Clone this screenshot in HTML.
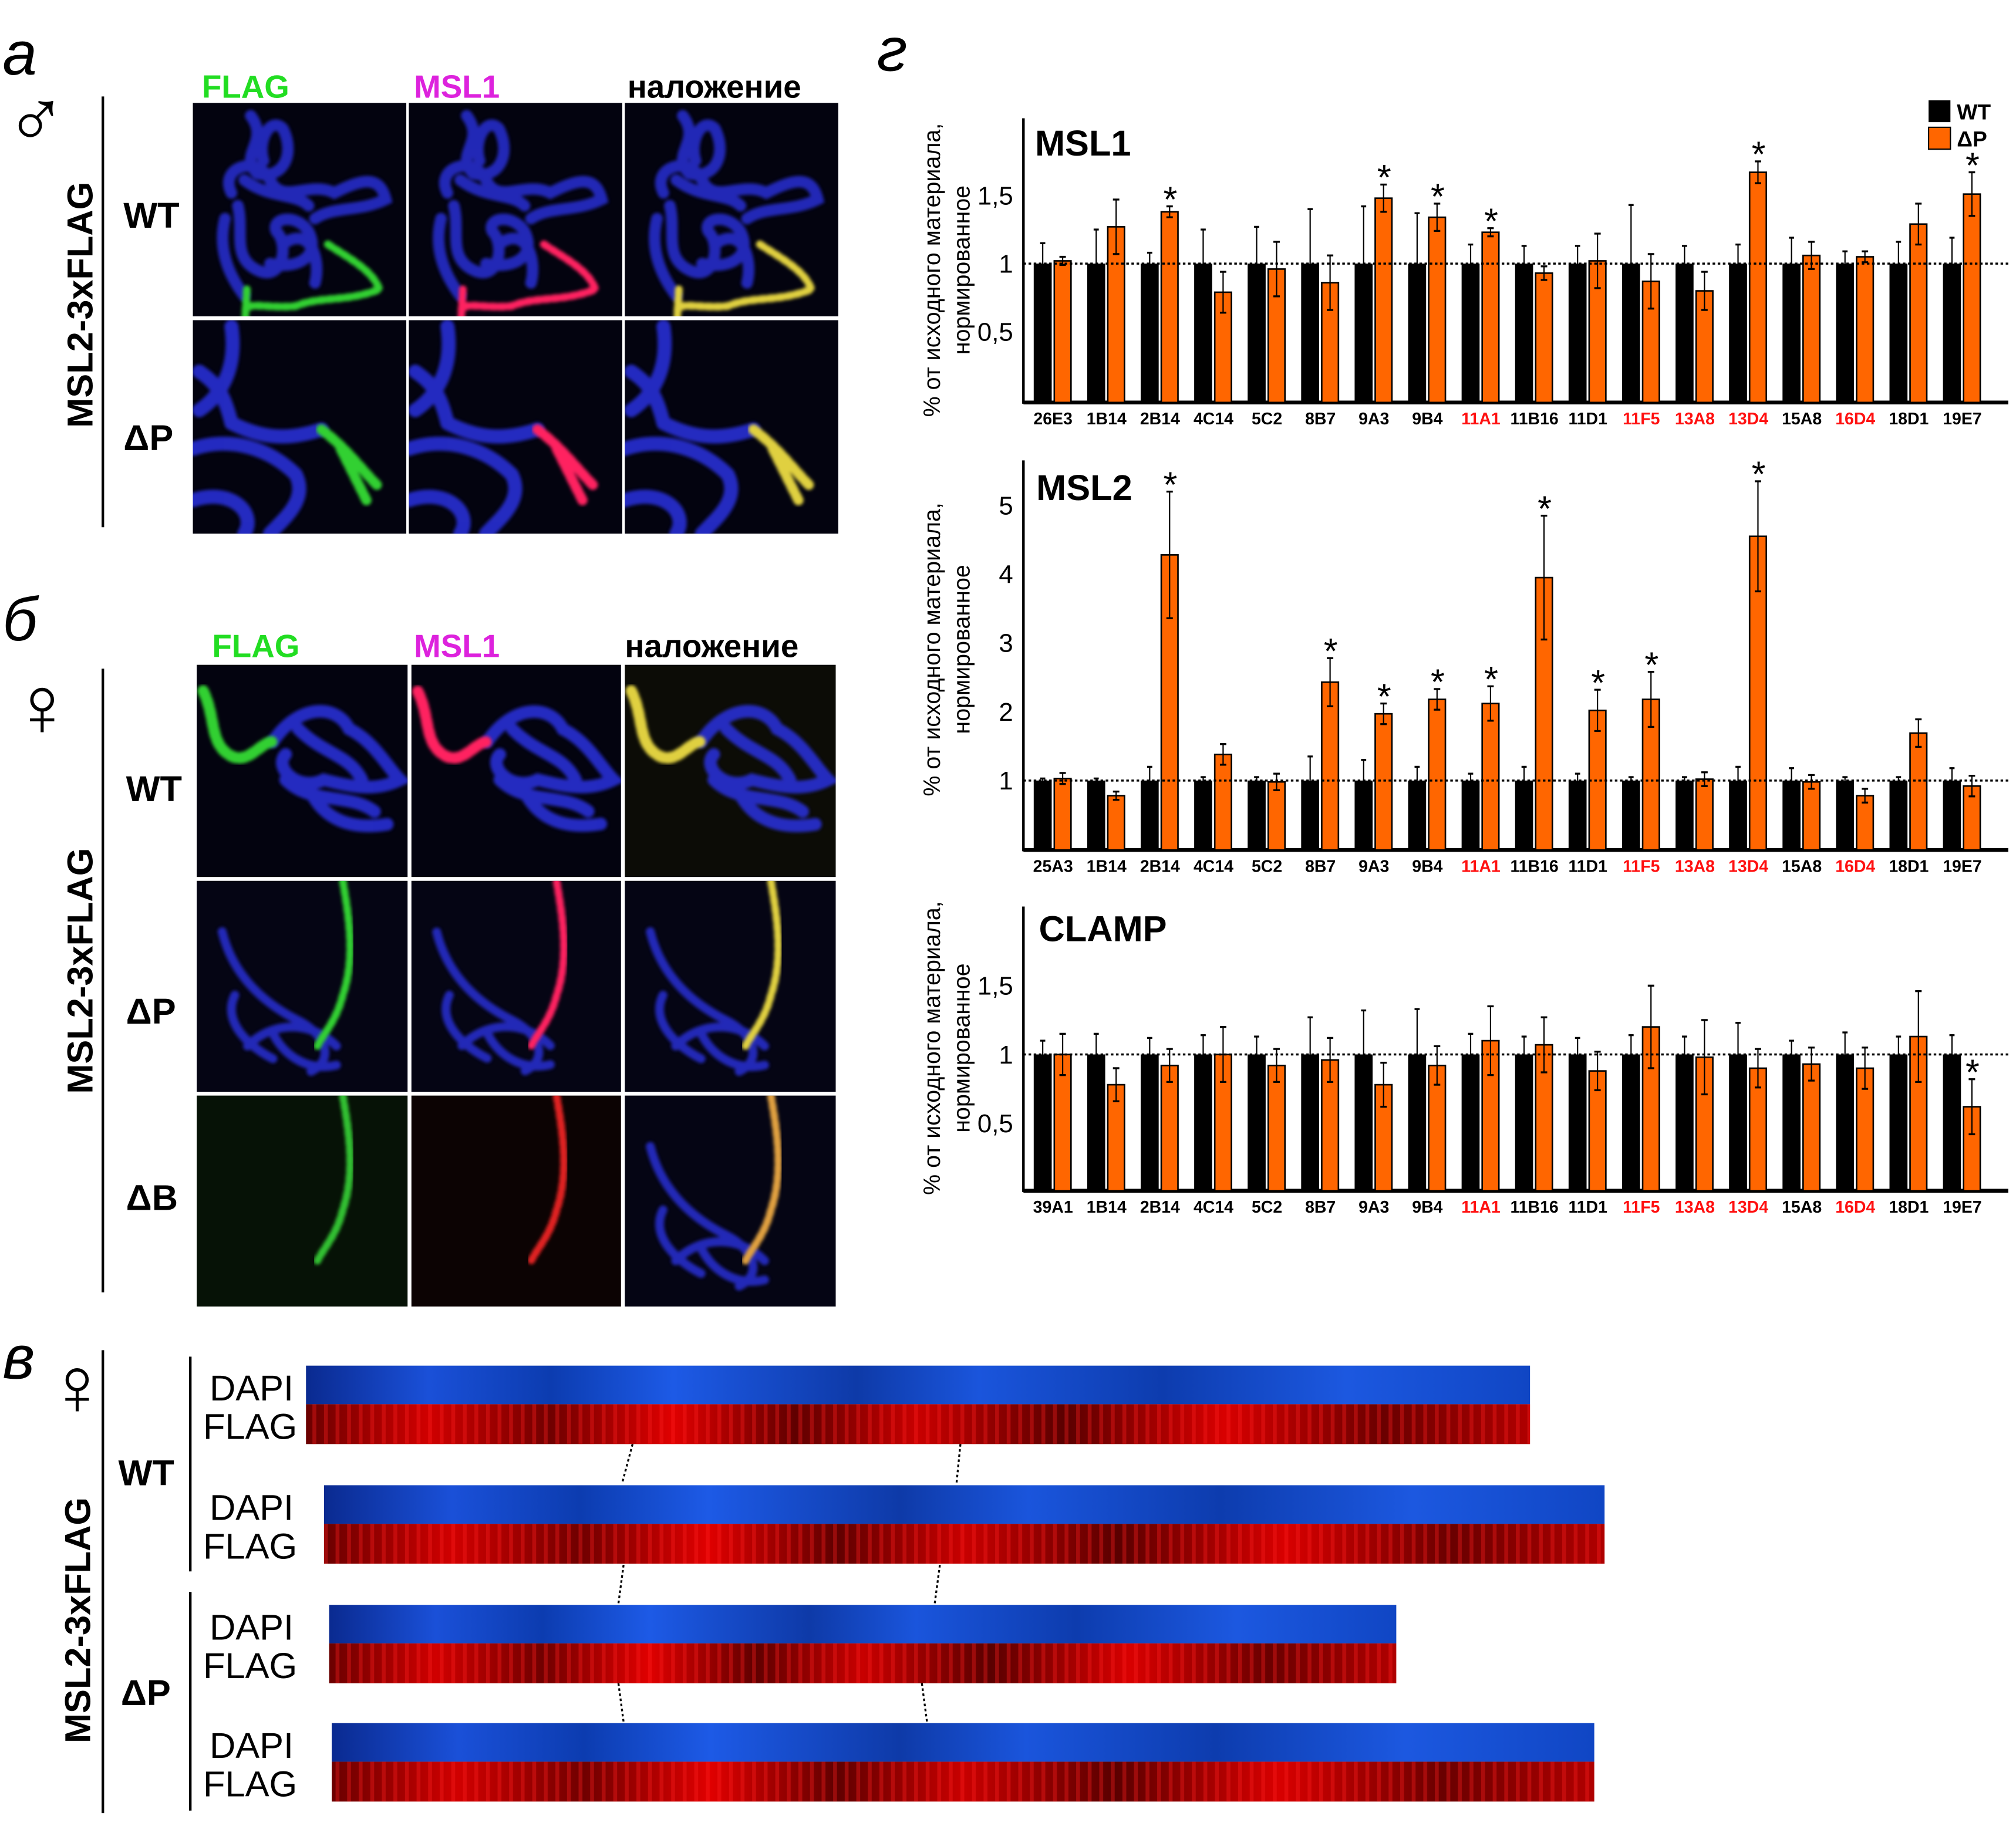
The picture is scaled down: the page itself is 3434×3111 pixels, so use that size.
<!DOCTYPE html>
<html><head><meta charset="utf-8"><style>
html,body{margin:0;padding:0;background:#fff}
svg{display:block}
text{font-family:"Liberation Sans","DejaVu Sans",sans-serif}
</style></head><body>
<svg id="s" xmlns="http://www.w3.org/2000/svg" width="3434" height="3111" viewBox="0 0 1568 1420" preserveAspectRatio="none">
<defs>
<filter id="bl" x="-10%" y="-10%" width="120%" height="120%"><feGaussianBlur stdDeviation="1.3"/></filter>
<linearGradient id="dapi" x1="0" x2="1" y1="0" y2="0">
<stop offset="0" stop-color="#0a2a90"/><stop offset="0.1" stop-color="#1a50d8"/><stop offset="0.2" stop-color="#0c3cb0"/><stop offset="0.3" stop-color="#1d5ae6"/><stop offset="0.45" stop-color="#0e3aa8"/><stop offset="0.55" stop-color="#1a55dc"/><stop offset="0.7" stop-color="#0d3cae"/><stop offset="0.85" stop-color="#1c58e0"/><stop offset="1" stop-color="#1046c4"/>
</linearGradient>
<linearGradient id="flag" x1="0" x2="1" y1="0" y2="0">
<stop offset="0" stop-color="#6a0000"/><stop offset="0.1" stop-color="#d00000"/><stop offset="0.2" stop-color="#700000"/><stop offset="0.3" stop-color="#e00000"/><stop offset="0.4" stop-color="#600000"/><stop offset="0.5" stop-color="#c80000"/><stop offset="0.62" stop-color="#5a0000"/><stop offset="0.75" stop-color="#d80000"/><stop offset="0.88" stop-color="#6a0000"/><stop offset="1" stop-color="#b00000"/>
</linearGradient>
<pattern id="bands" width="9" height="30" patternUnits="userSpaceOnUse"><rect width="3" height="30" fill="#ff2020" opacity="0.35"/></pattern>
<symbol id="chrA" viewBox="0 0 166 166"><g fill="none" stroke="#2a30e0" stroke-width="9" stroke-linecap="round" opacity="0.8" filter="url(#bl)">
<path d="M45 10 C60 30 35 40 50 55 C70 60 80 40 70 20 C60 10 50 30 55 45"/>
<path d="M30 70 C20 50 50 40 60 60 C70 80 90 60 110 70 C130 60 145 55 150 75 C130 85 110 80 95 90"/>
<path d="M35 80 C40 100 30 120 50 130 C70 140 75 110 65 100 C60 90 80 85 90 100 C100 120 80 130 60 125"/>
<path d="M25 90 C20 110 25 130 40 150"/>
<path d="M70 110 C90 95 100 120 95 140"/>
<path d="M40 60 C60 75 80 70 90 80"/>
</g></symbol>
<symbol id="chrA2" viewBox="0 0 166 166"><path d="M105 110 C120 120 140 130 145 145 C120 155 100 150 80 158 C60 160 45 155 42 160 M42 145 L40 180" fill="none" stroke-width="6" stroke-linecap="round" stroke-dasharray="4 3" filter="url(#bl)"/></symbol>
<symbol id="chrB" viewBox="0 0 166 166"><g fill="none" stroke="#2a30e0" stroke-width="11" stroke-linecap="round" opacity="0.85" filter="url(#bl)">
<path d="M30 5 C35 40 20 60 5 70"/><path d="M0 100 C30 90 60 100 80 120 C90 140 70 155 60 166"/><path d="M0 140 C30 130 50 150 40 166"/><path d="M30 80 C50 90 70 95 100 85"/><path d="M5 40 C20 50 25 60 30 80"/></g></symbol>
<symbol id="chrB2" viewBox="0 0 166 166"><path d="M100 85 C120 100 130 115 145 130 M115 100 C125 120 130 130 135 140" fill="none" stroke-width="8" stroke-linecap="round" stroke-dasharray="5 3" filter="url(#bl)"/></symbol>
<symbol id="chrC" viewBox="0 0 166 166"><g fill="none" stroke="#2a30e0" stroke-width="10" stroke-linecap="round" opacity="0.85" filter="url(#bl)">
<path d="M60 60 C80 30 110 30 120 50 C140 60 150 80 160 90 C140 100 120 95 100 90 C80 100 60 80 70 70"/><path d="M70 90 C90 110 120 100 140 115"/><path d="M80 50 C100 70 120 70 130 90"/><path d="M90 100 C100 120 120 130 150 125"/></g></symbol>
<symbol id="chrC2" viewBox="0 0 166 166"><path d="M5 20 C15 40 10 60 25 70 C40 80 50 60 60 60" fill="none" stroke-width="9" stroke-linecap="round" stroke-dasharray="5 3" filter="url(#bl)"/></symbol>
<symbol id="chrD" viewBox="0 0 166 166"><g fill="none" stroke="#2a30e0" stroke-width="7" stroke-linecap="round" opacity="0.8" filter="url(#bl)">
<path d="M20 40 C30 80 60 100 80 110 C100 120 110 140 90 150"/><path d="M40 130 C60 110 90 110 110 130"/><path d="M30 90 C20 110 40 130 60 140"/><path d="M60 120 C70 140 90 150 110 145"/></g></symbol>
<symbol id="chrD2" viewBox="0 0 166 166"><path d="M115 0 C120 30 125 60 115 90 C110 110 100 120 95 130" fill="none" stroke-width="6" stroke-linecap="round" stroke-dasharray="4 3" filter="url(#bl)"/></symbol>
</defs>
<g id="g"></g>
</svg>
<script>
const g=document.getElementById('g');let h='';
function T(x,y,t,o){o=o||{};h+=`<text x="${x}" y="${y}" font-size="${o.s||20}" font-weight="${o.w||'bold'}" fill="${o.c||'#000'}" text-anchor="${o.a||'start'}"${o.f?` font-family='${o.f}'`:''}${o.st?` font-style="${o.st}"`:''}${o.r?` transform="rotate(-90 ${x} ${y})"`:''}>${t}</text>`;}
function L(x1,y1,x2,y2,c,w,d){h+=`<line x1="${x1}" y1="${y1}" x2="${x2}" y2="${y2}" stroke="${c||'#000'}" stroke-width="${w||1.5}"${d?` stroke-dasharray="${d}"`:''}/>`;}
function R(x,y,w,hh,f,extra){h+=`<rect x="${x}" y="${y}" width="${w}" height="${hh}" fill="${f}" ${extra||''}/>`;}
const serif='Liberation Serif, DejaVu Serif, serif';
T(2,58,'а',{s:48,w:'normal',st:'italic',f:serif});T(2,498,'б',{s:48,w:'normal',st:'italic',f:serif});
T(2,1072,'в',{s:48,w:'normal',st:'italic',f:serif});T(682,55,'г',{s:48,w:'normal',st:'italic',f:serif});
T(4,112,'♂',{s:64,w:'bold'});T(8,572,'♀',{s:66,w:'bold'});T(36,1100,'♀',{s:64,w:'bold'});
L(80,75,80,410,'#000',2);L(80,520,80,1005,'#000',2);L(80,1050,80,1410,'#000',2);
T(72,237,'MSL2-3xFLAG',{s:28,r:1,a:'middle'});T(72,755,'MSL2-3xFLAG',{s:28,r:1,a:'middle'});T(70,1260,'MSL2-3xFLAG',{s:28,r:1,a:'middle'});
T(96,177,'WT',{s:28});T(96,350,'ΔP',{s:28});
T(98,623,'WT',{s:28});T(98,796,'ΔP',{s:28});T(98,941,'ΔB',{s:28});
T(157,76,'FLAG',{s:25,c:'#22dd22'});T(322,76,'MSL1',{s:25,c:'#dd22dd'});T(488,76,'наложение',{s:25});
T(165,511,'FLAG',{s:25,c:'#22dd22'});T(322,511,'MSL1',{s:25,c:'#dd22dd'});T(486,511,'наложение',{s:25});
function img(x,y,w,hh,bg,sym,sym2,col,dapi){R(x,y,w,hh,bg);if(dapi!==false)h+=`<use href="#${sym}" x="${x}" y="${y}" width="${w}" height="${hh}"/>`;h+=`<use href="#${sym2}" x="${x}" y="${y}" width="${w}" height="${hh}" stroke="${col}"/>`;}
const cols=[[150,166],[318,166],[486,166]];
const ovA=['#30d030','#ff2060','#e0d040'];
[[80,'chrA','chrA2'],[249,'chrB','chrB2']].forEach(r=>cols.forEach((c,i)=>img(c[0],r[0],c[1],166,'#03030f',r[1],r[2],ovA[i])));
const cols2=[[153,164],[320,163],[486,164]];
cols2.forEach((c,i)=>img(c[0],517,c[1],165,i==2?'#0c0c06':'#03030f','chrC','chrC2',ovA[i]));
cols2.forEach((c,i)=>img(c[0],685,c[1],164,'#050514','chrD','chrD2',ovA[i]));
cols2.forEach((c,i)=>{const bg=['#061206','#0c0303','#050514'][i];img(c[0],852,c[1],164,bg,'chrD','chrD2',['#30c030','#e02020','#e0a040'][i],i==2);});
L(148,1055,148,1222,'#000',2);L(148,1238,148,1408,'#000',2);
T(92,1155,'WT',{s:28});T(94,1326,'ΔP',{s:28});
const strips=[[238,1062,952],[252,1155,996],[256,1248,830],[258,1340,982]];
strips.forEach(s=>{const [x,y,w]=s;R(x,y,w,30,'url(#dapi)');R(x,y+30,w,31,'url(#flag)');R(x,y+30,w,31,'url(#bands)');
T(163,y+27,'DAPI',{s:28,w:'normal'});T(158,y+57,'FLAG',{s:28,w:'normal'});});
[[492,1123,484,1153],[747,1123,744,1153],[485,1217,481,1247],[731,1217,727,1247],[481,1309,485,1339],[717,1309,721,1339]].forEach(l=>L(l[0],l[1],l[2],l[3],'#000',1.5,'2 2'));
R(1500,78,17,17,'#000');T(1522,93,'WT',{s:17});R(1500,99,17,17,'#ff6600','stroke="#000" stroke-width="1"');T(1522,114,'ΔP',{s:17});
const red=new Set(['11A1','11F5','13A8','13D4','16D4']);
function chart(o){
 const c0=819,sp=41.6,yv=v=>o.y1-(v-1)*o.k;
 L(796,o.top,796,o.base+1,'#000',2);L(796,o.base,1562,o.base,'#000',3);
 T(o.tx,o.ty,o.title,{s:28});
 o.ticks.forEach(t=>T(788,yv(t[0])+7,t[1],{s:20,w:'normal',a:'end'}));
 o.cats.forEach((c,i)=>{const cx=c0+sp*i;
  const eb=o.eb[i],eo=o.eo[i],v=o.v[i];
  R(cx-15,yv(1),14,o.base-yv(1),'#000');
  L(cx-8,yv(1),cx-8,yv(1+eb),'#000',1);L(cx-10,yv(1+eb),cx-6,yv(1+eb),'#000',1.5);
  R(cx+1,yv(v),13,o.base-yv(v),'#ff6600','stroke="#000" stroke-width="1.2"');
  L(cx+7.5,yv(v-eo),cx+7.5,yv(v+eo),'#000',1);L(cx+5,yv(v+eo),cx+10,yv(v+eo),'#000',1.5);L(cx+5,yv(v-eo),cx+10,yv(v-eo),'#000',1.5);
  if(o.star.includes(c))T(cx+8,yv(v+eo)+4,'*',{s:28,w:'normal',a:'middle'});
  T(cx,o.base+17,c,{s:13,a:'middle',c:red.has(c)?'#ff1010':'#000'});
 });
 L(796,yv(1),1562,yv(1),'#000',1.6,'2 2');
 T(731,o.ly,'% от исходного материала,',{s:18,w:'normal',r:1,a:'middle'});T(754,o.ly,'нормированное',{s:18,w:'normal',r:1,a:'middle'});
}
const base=['1B14','2B14','4C14','5C2','8B7','9A3','9B4','11A1','11B16','11D1','11F5','13A8','13D4','15A8','16D4','18D1','19E7'];
chart({top:92,base:313,y1:205,k:106,title:'MSL1',tx:805,ty:121,ly:210,ticks:[[1.5,'1,5'],[1,'1'],[0.5,'0,5']],
 cats:['26E3',...base],v:[1.02,1.27,1.38,0.79,0.96,0.86,1.48,1.34,1.23,0.93,1.02,0.87,0.8,1.67,1.06,1.05,1.29,1.51],
 eo:[0.03,0.2,0.04,0.15,0.2,0.2,0.1,0.1,0.03,0.05,0.2,0.2,0.14,0.08,0.1,0.04,0.15,0.16],
 eb:[0.15,0.25,0.08,0.25,0.27,0.4,0.42,0.37,0.14,0.13,0.13,0.43,0.13,0.14,0.19,0.09,0.16,0.19],
 star:['2B14','9A3','9B4','11A1','13D4','19E7']});
chart({top:358,base:661,y1:607,k:53.5,title:'MSL2',tx:806,ty:389,ly:505,ticks:[[5,'5'],[4,'4'],[3,'3'],[2,'2'],[1,'1']],
 cats:['25A3',...base],v:[1.03,0.78,4.28,1.38,0.98,2.43,1.97,2.18,2.12,3.95,2.02,2.18,1.02,4.55,0.98,0.78,1.69,0.92],
 eo:[0.08,0.06,0.92,0.15,0.12,0.35,0.15,0.15,0.25,0.9,0.3,0.4,0.1,0.8,0.1,0.1,0.2,0.15],
 eb:[0.03,0.03,0.2,0.05,0.05,0.35,0.3,0.2,0.1,0.2,0.1,0.05,0.05,0.2,0.18,0.05,0.05,0.18],
 star:['2B14','8B7','9A3','9B4','11A1','11B16','11D1','11F5','13D4']});
chart({top:705,base:926,y1:820,k:107,title:'CLAMP',tx:808,ty:732,ly:815,ticks:[[1.5,'1,5'],[1,'1'],[0.5,'0,5']],
 cats:['39A1',...base],v:[1.0,0.78,0.92,1.0,0.92,0.96,0.78,0.92,1.1,1.07,0.88,1.2,0.98,0.9,0.93,0.9,1.13,0.62],
 eo:[0.15,0.12,0.12,0.2,0.12,0.16,0.16,0.14,0.25,0.2,0.14,0.3,0.27,0.14,0.12,0.15,0.33,0.2],
 eb:[0.1,0.15,0.12,0.14,0.13,0.27,0.32,0.33,0.15,0.13,0.12,0.14,0.13,0.23,0.1,0.16,0.13,0.14],
 star:['19E7']});
g.innerHTML=h;
</script>
</body></html>
